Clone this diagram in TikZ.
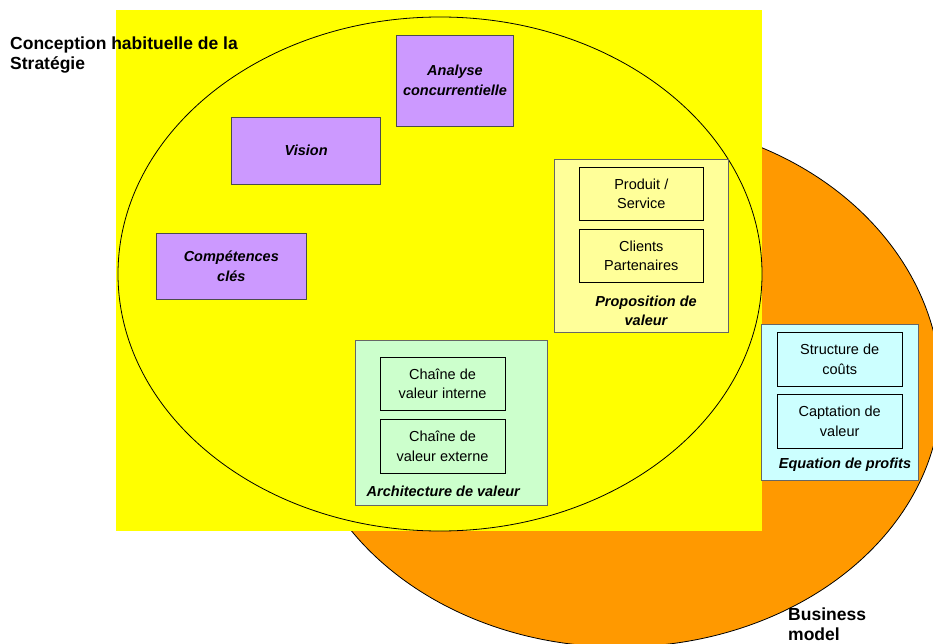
\documentclass[tikz,border=0pt]{standalone}
\usepackage{fontspec}
\setmainfont{Liberation Sans}
\definecolor{jauneS}{HTML}{FFFF00}
\definecolor{orangeBM}{HTML}{FF9900}
\definecolor{mauve}{HTML}{CC99FF}
\definecolor{jaunePV}{HTML}{FFFF99}
\definecolor{vertAV}{HTML}{CCFFCC}
\definecolor{cyanEP}{HTML}{CCFFFF}
\tikzset{
  boitemauve/.style={draw=black!70, fill=mauve, line width=0.9pt, inner sep=0pt,
    align=center, font=\fontsize{14.5}{19.5}\selectfont\bfseries\itshape},
  groupe/.style={draw=black!60, line width=0.9pt, inner sep=0pt},
  case/.style={draw=black, line width=0.9pt, inner sep=0pt, minimum width=124pt,
    minimum height=53.5pt, align=center, font=\fontsize{14.5}{19.5}\selectfont},
  legende/.style={inner sep=0pt, align=center, font=\fontsize{14.5}{19.5}\selectfont\bfseries\itshape},
  titre/.style={inner sep=0pt, align=left, anchor=north west,
    font=\fontsize{17.5}{19.5}\selectfont\bfseries}
}
\begin{document}
\begin{tikzpicture}[x=1pt,y=-1pt]
    \useasboundingbox (0,0) rectangle (933,644);
    % business model
    \filldraw[fill=orangeBM, draw=black, line width=0.8pt] (941,390)
      arc[start angle=0, end angle=180, x radius=321, y radius=257]
      arc[start angle=180, end angle=360, x radius=321, y radius=270] -- cycle;
    % strategie
    \fill[jauneS] (116,10) rectangle (762,531);
    \filldraw[fill=jauneS, draw=black, line width=0.8pt] (440,274) ellipse (322 and 257);
    \node[boitemauve, minimum width=116.6pt, minimum height=91pt] (ana) at (455,80.5) {Analyse\\concurrentielle};
    \node[boitemauve, minimum width=149pt, minimum height=66.7pt] (vis) at (306.2,150.7) {Vision};
    \node[boitemauve, minimum width=149.3pt, minimum height=66pt] (comp) at (231.3,266.3) {Compétences\\clés};
    % proposition de valeur
    \node[groupe, fill=jaunePV, minimum width=174.3pt, minimum height=173.3pt] (prop) at (641.2,245.7) {};
    \node[case] (prod) at (641.3,194) {Produit /\\Service};
    \node[case] (cli) at (641.3,256) {Clients\\Partenaires};
    \node[legende] (propl) at (646,311) {Proposition de\\valeur};
    % architecture de valeur
    \node[groupe, fill=vertAV, minimum width=192.3pt, minimum height=164.3pt] (arch) at (451.2,422.9) {};
    \node[case, minimum width=125pt] (chint) at (442.5,383.7) {Chaîne de\\valeur interne};
    \node[case, minimum width=125pt] (chext) at (442.5,446.3) {Chaîne de\\valeur externe};
    \node[legende] (archl) at (443.3,491) {Architecture de valeur};
    % equation de profits
    \node[groupe, fill=cyanEP, minimum width=157.3pt, minimum height=156.7pt] (eq) at (839.7,402.4) {};
    \node[case, minimum width=124.7pt] (struc) at (839.7,359.2) {Structure de\\coûts};
    \node[case, minimum width=124.7pt] (capt) at (839.7,421.2) {Captation de\\valeur};
    \node[legende] (eql) at (845,465) {Equation de profits};
    % titres
    \node[titre] (strat) at (10,37) {Conception habituelle de la\\Stratégie};
    \node[titre] (bm) at (788,608) {Business\\model};
\end{tikzpicture}
\end{document}
